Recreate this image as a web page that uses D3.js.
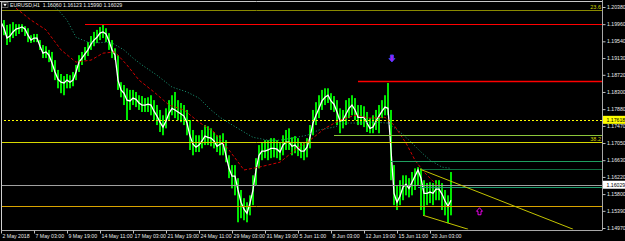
<!DOCTYPE html>
<html>
<head>
<meta charset="utf-8">
<script src="https://cdn.jsdelivr.net/npm/d3@7"></script>
<style>
body { margin: 0; background: #000; }
svg { display: block; font-family: "Liberation Sans", Arial, sans-serif; }
</style>
</head>
<body>
<div id="chart-area"></div>
<script>
// EURUSD H1, one sample every ~6 bars
var highs = [1.2011,1.2006,1.1994,1.1996,1.2001,1.1996,1.1996,1.1996,1.1991,1.1986,
	1.1969,1.1972,1.1972,1.1957,1.1945,1.1942,1.1933,1.1928,1.1908,1.1884,
	1.1874,1.1869,1.1874,1.1871,1.1879,1.1896,1.1920,1.1928,1.1940,1.1952,
	1.1967,1.1977,1.1982,1.1989,1.1994,1.1986,1.1974,1.1957,1.1937,1.1920,
	1.1854,1.1847,1.1839,1.1835,1.1835,1.1830,1.1822,1.1820,1.1815,1.1817,
	1.1822,1.1810,1.1798,1.1786,1.1773,1.1790,1.1810,1.1822,1.1830,1.1810,
	1.1803,1.1798,1.1786,1.1761,1.1737,1.1724,1.1724,1.1737,1.1749,1.1746,
	1.1741,1.1732,1.1724,1.1724,1.1729,1.1712,1.1675,1.1651,1.1651,1.1619,
	1.1590,1.1570,1.1560,1.1577,1.1626,1.1668,1.1700,1.1707,1.1712,1.1712,
	1.1717,1.1717,1.1712,1.1707,1.1724,1.1737,1.1741,1.1719,1.1722,1.1717,
	1.1707,1.1707,1.1717,1.1749,1.1786,1.1805,1.1822,1.1835,1.1839,1.1839,
	1.1827,1.1820,1.1810,1.1790,1.1786,1.1810,1.1815,1.1822,1.1815,1.1798,
	1.1798,1.1795,1.1781,1.1766,1.1773,1.1786,1.1798,1.1810,1.1822,1.1852,
	1.1786,1.1651,1.1602,1.1614,1.1626,1.1626,1.1619,1.1634,1.1643,1.1646,
	1.1643,1.1614,1.1607,1.1609,1.1607,1.1614,1.1614,1.1607,1.1590,1.1577,
	1.1634];
var lows = [1.1986,1.1969,1.1945,1.1952,1.1962,1.1967,1.1972,1.1977,1.1967,1.1952,
	1.1950,1.1952,1.1952,1.1933,1.1913,1.1913,1.1903,1.1879,1.1859,1.1839,
	1.1827,1.1822,1.1839,1.1839,1.1844,1.1859,1.1879,1.1896,1.1908,1.1918,
	1.1933,1.1942,1.1950,1.1957,1.1962,1.1952,1.1933,1.1913,1.1908,1.1835,
	1.1817,1.1798,1.1761,1.1786,1.1798,1.1793,1.1786,1.1781,1.1781,1.1781,
	1.1773,1.1761,1.1749,1.1732,1.1724,1.1741,1.1761,1.1773,1.1766,1.1761,
	1.1756,1.1749,1.1724,1.1688,1.1675,1.1683,1.1683,1.1692,1.1700,1.1700,
	1.1697,1.1692,1.1683,1.1675,1.1675,1.1658,1.1619,1.1594,1.1577,1.1511,
	1.1521,1.1516,1.1511,1.1528,1.1553,1.1602,1.1643,1.1663,1.1668,1.1663,
	1.1668,1.1670,1.1668,1.1663,1.1675,1.1688,1.1688,1.1675,1.1680,1.1673,
	1.1668,1.1663,1.1670,1.1692,1.1724,1.1749,1.1766,1.1786,1.1798,1.1803,
	1.1786,1.1781,1.1749,1.1729,1.1741,1.1749,1.1766,1.1773,1.1761,1.1749,
	1.1749,1.1744,1.1732,1.1729,1.1729,1.1737,1.1729,1.1766,1.1773,1.1773,
	1.1614,1.1553,1.1541,1.1553,1.1565,1.1577,1.1572,1.1577,1.1590,1.1602,
	1.1541,1.1528,1.1553,1.1558,1.1553,1.1565,1.1565,1.1541,1.1528,1.1509,
	1.1528];
var fastMa = [1.2001,1.1986,1.1962,1.1967,1.1977,1.1984,1.1986,1.1989,1.1984,1.1969,
	1.1957,1.1962,1.1962,1.1942,1.1925,1.1928,1.1920,1.1901,1.1879,1.1861,
	1.1854,1.1852,1.1859,1.1854,1.1859,1.1879,1.1903,1.1913,1.1923,1.1933,
	1.1947,1.1957,1.1964,1.1974,1.1977,1.1972,1.1955,1.1933,1.1920,1.1859,
	1.1835,1.1827,1.1810,1.1808,1.1815,1.1812,1.1803,1.1798,1.1798,1.1800,
	1.1798,1.1783,1.1771,1.1756,1.1744,1.1759,1.1778,1.1790,1.1786,1.1781,
	1.1776,1.1771,1.1754,1.1722,1.1702,1.1695,1.1700,1.1710,1.1722,1.1719,
	1.1717,1.1710,1.1697,1.1702,1.1705,1.1675,1.1643,1.1624,1.1624,1.1590,
	1.1560,1.1543,1.1533,1.1558,1.1590,1.1639,1.1675,1.1685,1.1685,1.1688,
	1.1692,1.1692,1.1690,1.1683,1.1700,1.1707,1.1707,1.1697,1.1700,1.1692,
	1.1685,1.1685,1.1695,1.1719,1.1754,1.1773,1.1790,1.1808,1.1817,1.1822,
	1.1808,1.1800,1.1781,1.1759,1.1761,1.1776,1.1790,1.1798,1.1786,1.1768,
	1.1768,1.1768,1.1754,1.1741,1.1744,1.1759,1.1771,1.1783,1.1793,1.1790,
	1.1688,1.1582,1.1560,1.1575,1.1597,1.1604,1.1594,1.1609,1.1624,1.1639,
	1.1619,1.1582,1.1582,1.1585,1.1582,1.1592,1.1592,1.1580,1.1563,1.1550,
	1.1565];

// slower averages, [sample, price]
var redMa = [[5,1.2035],[10,1.2006],[15,1.1982],[20,1.1933],[25,1.1903],[30,1.1908],
	[34,1.1925],[38,1.1928],[42,1.1896],[46,1.1859],[51,1.1830],[56,1.1798],
	[61,1.1786],[66,1.1756],[71,1.1732],[76,1.1688],[81,1.1639],[86,1.1646],
	[93,1.1658],[98,1.1688],[103,1.1712],[108,1.1741],[113,1.1761],[118,1.1773],
	[123,1.1766],[128,1.1768],[131,1.1749],[135,1.1705],[138,1.1663],[141,1.1634],
	[146,1.1597]];
var tealMa = [[15,1.2055],[19,1.2031],[22,1.2006],[25,1.1964],[29,1.1952],[32,1.1950],
	[35,1.1952],[37,1.1950],[41,1.1933],[44,1.1913],[47,1.1896],[52,1.1871],
	[57,1.1842],[62,1.1830],[66,1.1815],[70,1.1786],[73,1.1768],[76,1.1754],
	[81,1.1732],[84,1.1719],[89,1.1712],[93,1.1712],[97,1.1717],[102,1.1724],
	[106,1.1737],[111,1.1744],[115,1.1754],[120,1.1754],[124,1.1756],[129,1.1754],
	[133,1.1732],[136,1.1712],[140,1.1683],[143,1.1663],[147,1.1646],[150,1.1643]];

var priceTicks = [1.20380,1.19960,1.19540,1.19130,1.18720,1.18300,1.17880,
	1.17470,1.17050,1.16630,1.16220,1.15800,1.15390,1.14970];
var dateTicks = [0,11,22,33,44,55,66,77,88,99,110,121,132,143];
var dateLabels = ["2 May 2018","7 May 03:00","9 May 19:00","14 May 11:00","17 May 03:00",
	"21 May 19:00","24 May 11:00","29 May 03:00","31 May 19:00","5 Jun 11:00",
	"8 Jun 03:00","12 Jun 19:00","15 Jun 11:00","20 Jun 03:00"];

// horizontal objects: price and first sample
var levelPrices = [1.2031,1.1996,1.1857,1.17618,1.1724,1.1707,1.1661,1.1641,1.16029,1.1597,1.1550];
var levelStarts = [0,28,119,0,111,0,130,140,0,139,0];
var levelColors = ["#8a8a00","#ff0000","#ff0000","#ffff00","#8cc63a","#d8d800","#1f9f5f","#0f7040","#a0a0a0","#1fa070","#d9a300"];
var levelWidths = [1,1.2,1.4,1,1,1,1,1,1,1,1];
var fibNames = ["23.6","38.2"];
var fibPrices = [1.2031,1.1707];

var trendLines = [[[139.7,1.1641],[190.7,1.1494]], [[140.7,1.1528],[155.7,1.1494]]];
var arrowIdx = [130.3,159.5];
var arrowPrice = [1.1912,1.1538];
var arrowDir = ["down","up"];

var bid = 1.16029;
var lastLevel = 1.17618;
var titleText = "EURUSD,H1  1.16060 1.16123 1.15990 1.16029";

var svg = d3.select("#chart-area").append("svg")
	.attr("width", 625)
	.attr("height", 241)
	.style("background", "#000");

var x = d3.scaleLinear().domain([0, 200]).range([1, 601]);
var y = d3.scaleLinear().domain([1.14970, 1.20380]).range([228, 7]);
var right = 602.5;

svg.append("clipPath").attr("id", "plot")
	.append("rect").attr("x", 1.5).attr("y", 1.5).attr("width", right - 1.5).attr("height", 228);

var plot = svg.append("g").attr("clip-path", "url(#plot)");

// bars
plot.selectAll(".bar")
	.data(highs)
	.enter().append("rect")
	.attr("x", (d, i) => x(i) - 0.9)
	.attr("y", (d) => y(d))
	.attr("width", 1.8)
	.attr("height", (d, i) => Math.max(1, y(lows[i]) - y(d)))
	.attr("fill", "#00ff00");

var line = d3.line().x((d, i) => x(i)).y((d) => y(d));
plot.append("path")
	.attr("d", line(fastMa))
	.attr("fill", "none")
	.attr("stroke", "#ffffff")
	.attr("stroke-width", 1.3);

var pairLine = d3.line().x((d) => x(d[0])).y((d) => y(d[1]));
plot.append("path")
	.attr("d", pairLine(redMa))
	.attr("fill", "none")
	.attr("stroke", "#d00000")
	.attr("stroke-width", 1)
	.attr("stroke-dasharray", "3,2");
plot.append("path")
	.attr("d", pairLine(tealMa))
	.attr("fill", "none")
	.attr("stroke", "#1a9a78")
	.attr("stroke-width", 1)
	.attr("stroke-dasharray", "1,2");

// horizontal lines
for (let i = 0; i < levelPrices.length; i++)
{
	plot.append("line")
		.attr("x1", levelStarts[i] == 0 ? 0 : x(levelStarts[i]))
		.attr("x2", right)
		.attr("y1", Math.round(y(levelPrices[i])) + 0.5)
		.attr("y2", Math.round(y(levelPrices[i])) + 0.5)
		.style("stroke", levelColors[i])
		.style("stroke-width", levelWidths[i])
		.attr("stroke-dasharray", levelPrices[i] == lastLevel ? "2,2" : null);
}

for (let i = 0; i < trendLines.length; i++)
{
	plot.append("path")
		.attr("d", pairLine(trendLines[i]))
		.attr("stroke", "#c4c400")
		.attr("stroke-width", 1)
		.attr("fill", "none");
}

for (let i = 0; i < fibNames.length; i++)
{
	svg.append("text")
		.attr("x", right - 1.5)
		.attr("y", Math.round(y(fibPrices[i])) - 1.5)
		.attr("text-anchor", "end")
		.attr("font-size", 5.5)
		.attr("fill", "#d0d000")
		.text(fibNames[i]);
}

// arrows
for (let i = 0; i < arrowIdx.length; i++)
{
	var ax = x(arrowIdx[i]), ay = y(arrowPrice[i]);
	var s = arrowDir[i] == "down" ? 1 : -1;
	var pts = [[-1.5,-3.5],[1.5,-3.5],[1.5,0],[3,0],[0,3.5],[-3,0],[-1.5,0]];
	plot.append("path")
		.attr("d", "M" + pts.map((p) => (ax + p[0]) + "," + (ay + s * p[1])).join("L") + "Z")
		.attr("fill", arrowDir[i] == "down" ? "#a020f0" : "none")
		.attr("stroke", arrowDir[i] == "down" ? "#3f3fff" : "#ff00ff")
		.attr("stroke-width", 0.9);
}

// frame
svg.append("line").attr("x1", 0).attr("x2", right).attr("y1", 1.5).attr("y2", 1.5).attr("stroke", "#c8c8c8");
svg.append("line").attr("x1", 1.5).attr("x2", 1.5).attr("y1", 1.5).attr("y2", 230.5).attr("stroke", "#d0d0d0");

var yAxis = svg.append("g")
	.attr("transform", "translate(" + right + ",0)")
	.call(d3.axisRight(y).tickValues(priceTicks).tickFormat(d3.format(".5f")).tickSize(3).tickPadding(1.5));
var xAxis = svg.append("g")
	.attr("transform", "translate(0,230.5)")
	.call(d3.axisBottom(x).tickValues(dateTicks).tickFormat((d, i) => dateLabels[i]).tickSize(3).tickPadding(0.5));

svg.selectAll(".domain").attr("stroke", "#a8a8a8").attr("stroke-width", 1);
svg.selectAll(".tick line").attr("stroke", "#c0c0c0");
svg.selectAll(".tick text").attr("fill", "#e8e8e8").attr("font-size", 5.2).attr("font-family", "Liberation Sans, Arial, sans-serif");
xAxis.selectAll(".tick text").attr("text-anchor", "start").attr("dx", 1);
xAxis.select(".domain").attr("d", "M1,0H" + right);
yAxis.select(".domain").attr("d", "M0,0V230");

// current price boxes
var boxes = [[lastLevel, "#ffff00"], [bid, "#ffffff"]];
for (let i = 0; i < boxes.length; i++)
{
	var by = y(boxes[i][0]);
	svg.append("rect")
		.attr("x", right + 0.5).attr("y", by - 4)
		.attr("width", 22).attr("height", 8)
		.attr("fill", boxes[i][1]);
	svg.append("text")
		.attr("x", right + 4).attr("y", by + 1.8)
		.attr("font-size", 5.2)
		.attr("fill", "#000")
		.text(d3.format(".5f")(boxes[i][0]));
}

// title
svg.append("rect").attr("x", 2).attr("y", 2.5).attr("width", 6).attr("height", 5).attr("fill", "#000").attr("stroke", "#9a9a9a").attr("stroke-width", 0.6);
svg.append("path").attr("d", "M3.2,3.8L6.8,3.8L5,6.4Z").attr("fill", "#ffffff");
svg.append("text")
	.attr("x", 10).attr("y", 7.2)
	.attr("font-size", 5.2)
	.attr("fill", "#ececec")
	.attr("xml:space", "preserve")
	.style("white-space", "pre")
	.text(titleText);
</script>
</body>
</html>
